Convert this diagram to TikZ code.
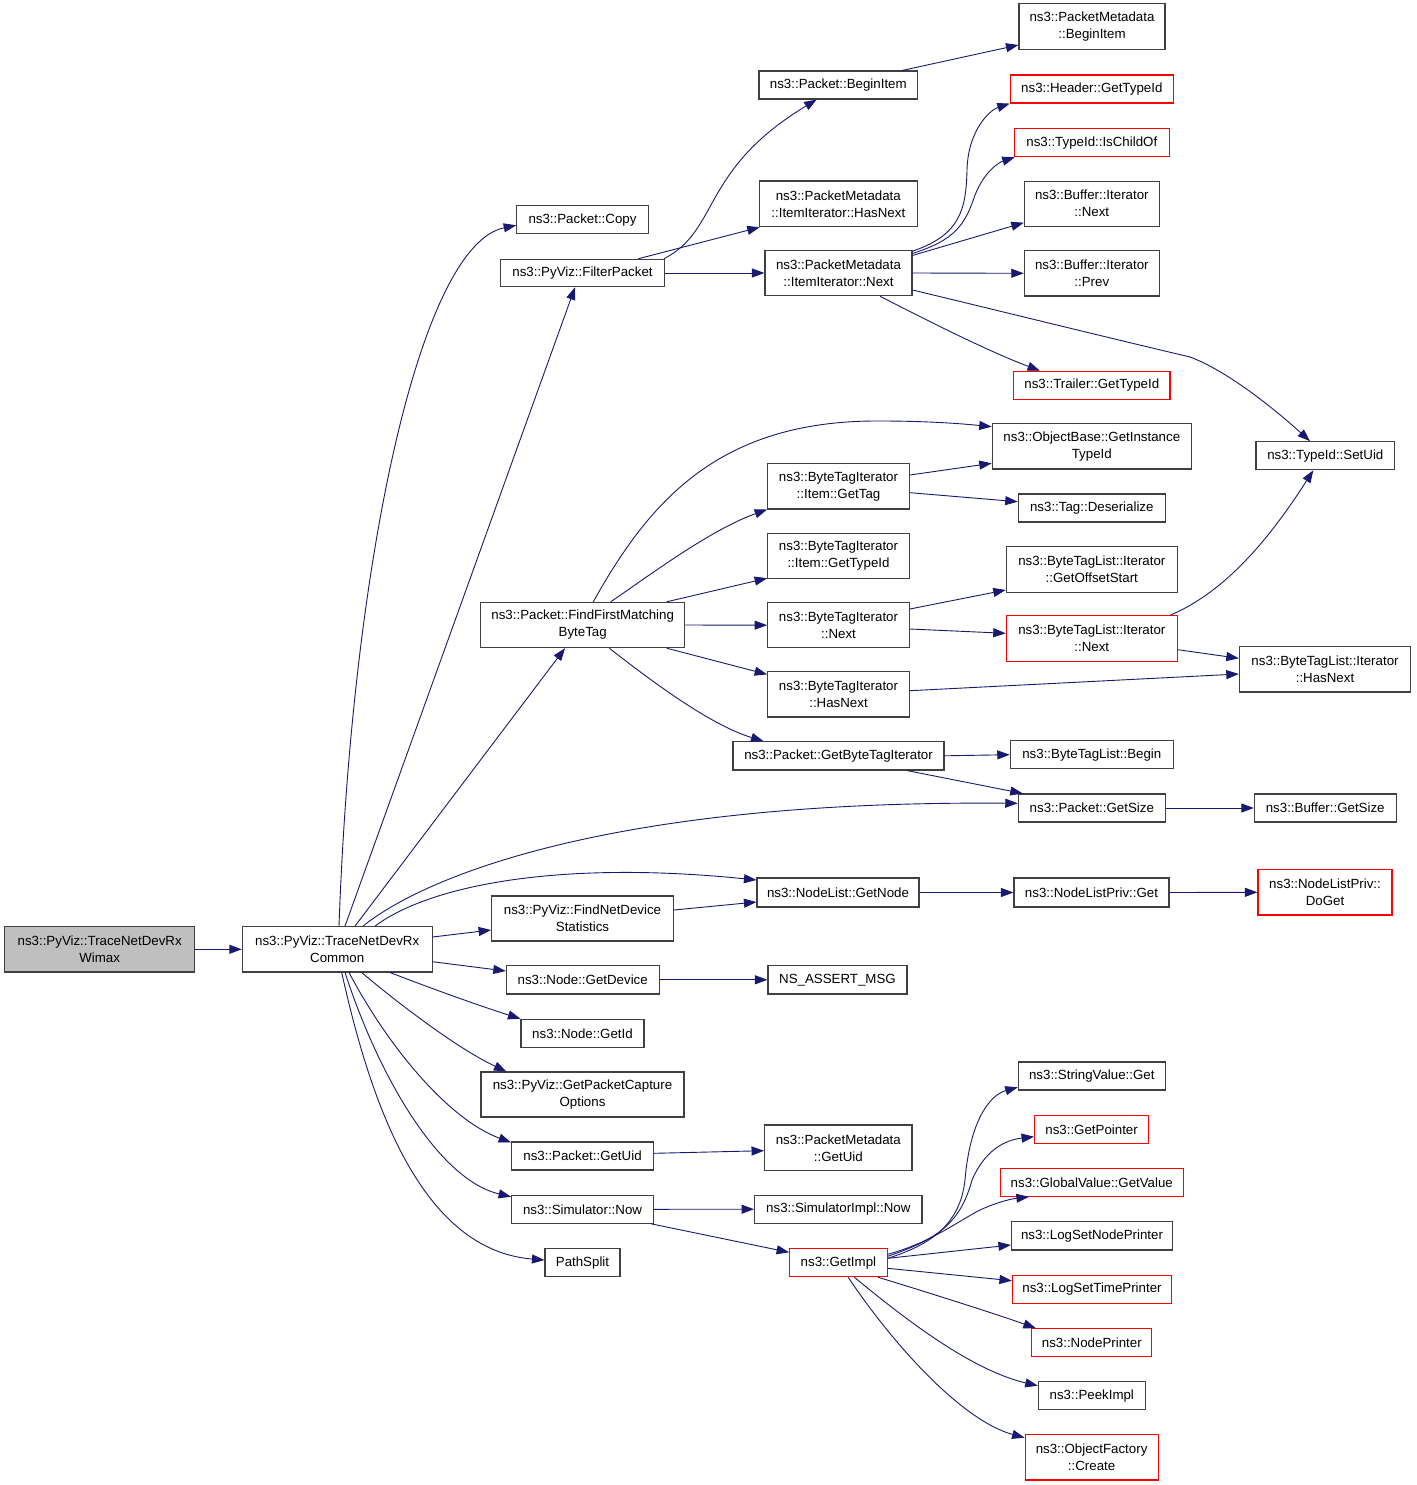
\documentclass[tikz,border=0pt]{standalone}
\usepackage{fontspec}
\setmainfont{Liberation Sans}
\usetikzlibrary{arrows.meta,calc}
\definecolor{edgeblue}{RGB}{25,25,112}
\definecolor{grey25}{RGB}{64,64,64}
\definecolor{grey75}{RGB}{191,191,191}
\begin{document}
\begin{tikzpicture}[x=1pt,y=-1pt,
  box/.style={draw=grey25, line width=1.1pt, fill=white, inner sep=0pt, align=center,
    font=\fontsize{13.3}{17}\selectfont},
  rbox/.style={box, draw=red},
  rootbox/.style={box, fill=grey75},
  edge/.style={draw=edgeblue, line width=0.9pt, -{Triangle[length=12.5pt,width=9pt]}}]
\useasboundingbox (0,0) rectangle (1416,1485);
\fill[white] (0,0) rectangle (1416,1485);
% nodes
\newcommand{\bx}[7]{\node[#1, minimum width=#5pt, minimum height=#6pt] (#2) at (#3,#4) {#7};}
\bx{rootbox}{wimax}{99.7}{949.3}{189.7}{45.3}{ns3::PyViz::TraceNetDevRx\\Wimax}
\bx{box}{common}{337.2}{949.3}{189.7}{45.3}{ns3::PyViz::TraceNetDevRx\\Common}
\bx{box}{copy}{582.5}{219.8}{131.5}{28}{ns3::Packet::Copy}
\bx{box}{filter}{582.5}{273}{163.7}{27.4}{ns3::PyViz::FilterPacket}
\bx{box}{beginitem}{838.3}{85}{158.7}{28}{ns3::Packet::BeginItem}
\bx{box}{pmbeginitem}{1092}{26.5}{146}{45.3}{ns3::PacketMetadata\\::BeginItem}
\bx{box}{hasnext}{838.3}{203.8}{158}{45.7}{ns3::PacketMetadata\\::ItemIterator::HasNext}
\bx{box}{itnext}{838.5}{273}{147}{45.4}{ns3::PacketMetadata\\::ItemIterator::Next}
\bx{rbox}{header}{1091.8}{89}{163}{28}{ns3::Header::GetTypeId}
\bx{rbox}{ischild}{1091.8}{142.7}{155}{28}{ns3::TypeId::IsChildOf}
\bx{box}{bufnext}{1091.8}{203.7}{135}{45.3}{ns3::Buffer::Iterator\\::Next}
\bx{box}{bufprev}{1091.8}{273.3}{135}{45.3}{ns3::Buffer::Iterator\\::Prev}
\bx{rbox}{trailer}{1091.8}{385.3}{156.3}{28}{ns3::Trailer::GetTypeId}
\bx{box}{setuid}{1325.3}{455.7}{138.7}{28}{ns3::TypeId::SetUid}
\bx{box}{objbase}{1091.8}{446.3}{199}{45.3}{ns3::ObjectBase::GetInstance\\TypeId}
\bx{box}{gettag}{838.5}{486.3}{141.7}{45.3}{ns3::ByteTagIterator\\::Item::GetTag}
\bx{box}{deserialize}{1091.8}{508}{147}{28}{ns3::Tag::Deserialize}
\bx{box}{gettypeid}{838.5}{556}{141.7}{45.3}{ns3::ByteTagIterator\\::Item::GetTypeId}
\bx{box}{offsetstart}{1091.8}{569.2}{171}{45.7}{ns3::ByteTagList::Iterator\\::GetOffsetStart}
\bx{box}{findfirst}{582.7}{625}{204}{45.3}{ns3::Packet::FindFirstMatching\\ByteTag}
\bx{box}{btinext}{838.5}{625.2}{141.7}{45.3}{ns3::ByteTagIterator\\::Next}
\bx{rbox}{btlnext}{1091.8}{638.5}{171}{45.3}{ns3::ByteTagList::Iterator\\::Next}
\bx{box}{btlhasnext}{1325}{669.3}{171.3}{45.3}{ns3::ByteTagList::Iterator\\::HasNext}
\bx{box}{btihasnext}{838.5}{694.3}{141.7}{45.3}{ns3::ByteTagIterator\\::HasNext}
\bx{box}{getbti}{838.5}{755.8}{211}{28.3}{ns3::Packet::GetByteTagIterator}
\bx{box}{btlbegin}{1091.8}{754.7}{163}{28}{ns3::ByteTagList::Begin}
\bx{box}{pgetsize}{1091.8}{808}{147}{28}{ns3::Packet::GetSize}
\bx{box}{bgetsize}{1325.2}{808}{141.7}{28}{ns3::Buffer::GetSize}
\bx{box}{getnode}{838}{892.5}{162}{29}{ns3::NodeList::GetNode}
\bx{box}{nlpget}{1091.5}{892.5}{155}{29}{ns3::NodeListPriv::Get}
\bx{rbox}{doget}{1325}{892.3}{134}{45.3}{ns3::NodeListPriv::\\DoGet}
\bx{box}{findnetdev}{582.5}{918.5}{181.7}{45}{ns3::PyViz::FindNetDevice\\Statistics}
\bx{box}{getdevice}{582.7}{979.8}{152.7}{28.3}{ns3::Node::GetDevice}
\bx{box}{nsassert}{837.5}{979.8}{139}{28.3}{NS\_ASSERT\_MSG}
\bx{box}{getid}{582.5}{1033.3}{123}{28}{ns3::Node::GetId}
\bx{box}{getpcopt}{582.5}{1094.5}{203}{45}{ns3::PyViz::GetPacketCapture\\Options}
\bx{box}{getuid}{582.5}{1156}{141.7}{28}{ns3::Packet::GetUid}
\bx{box}{pmgetuid}{838.3}{1147.8}{147.4}{45.7}{ns3::PacketMetadata\\::GetUid}
\bx{box}{simnow}{582.5}{1209.3}{141.7}{28}{ns3::Simulator::Now}
\bx{box}{simimplnow}{838.3}{1209.2}{167.4}{28.3}{ns3::SimulatorImpl::Now}
\bx{box}{pathsplit}{582.5}{1262.7}{75}{28}{PathSplit}
\bx{rbox}{getimpl}{838.4}{1262.7}{97.5}{28}{ns3::GetImpl}
\bx{box}{stringvalue}{1091.8}{1076}{147}{28}{ns3::StringValue::Get}
\bx{rbox}{getpointer}{1091.6}{1129.3}{114}{28}{ns3::GetPointer}
\bx{rbox}{globalvalue}{1091.8}{1182.3}{182.8}{28}{ns3::GlobalValue::GetValue}
\bx{box}{logsetnode}{1092}{1235.8}{161}{28.3}{ns3::LogSetNodePrinter}
\bx{rbox}{logsettime}{1092}{1289.3}{159}{28}{ns3::LogSetTimePrinter}
\bx{rbox}{nodeprinter}{1091.8}{1342.5}{120}{27.6}{ns3::NodePrinter}
\bx{box}{peekimpl}{1091.8}{1395.7}{107}{28}{ns3::PeekImpl}
\bx{rbox}{objfactory}{1091.6}{1457.3}{133}{45.3}{ns3::ObjectFactory\\::Create}
% edges
\draw[edge] (wimax.east) -- (common.west);
\draw[edge] ($(common.north)+(1.8,0)$) .. controls (352,560) and (420,245) .. ($(copy.west)+(0,5.5)$);
\draw[edge] ($(common.north)+(7.8,0)$) -- ($(filter.south)+(-7.5,0)$);
\draw[edge] ($(common.north)+(17.8,0)$) -- ($(findfirst.south)+(-17.7,0)$);
\draw[edge] ($(common.north)+(25.8,0)$) .. controls (420,880) and (600,800) .. ($(pgetsize.west)+(0,-4.7)$);
\draw[edge] ($(common.north)+(37.8,0)$) .. controls (430,885) and (560,860) .. ($(getnode.west)+(0,-12.5)$);
\draw[edge] ($(common.east)+(0,-12.3)$) -- ($(findnetdev.west)+(0,11.5)$);
\draw[edge] ($(common.east)+(0,12.4)$) -- ($(getdevice.west)+(0,-8.8)$);
\draw[edge] ($(common.south)+(52.8,0)$) .. controls (430,988) and (480,1006) .. (getid.north west);
\draw[edge] ($(common.south)+(24.5,0)$) .. controls (400,1005) and (460,1050) .. ($(getpcopt.north west)+(26,0)$);
\draw[edge] ($(common.south)+(11.8,0)$) .. controls (390,1050) and (450,1120) .. ($(getuid.north west)+(0,1)$);
\draw[edge] ($(common.south)+(7.8,0)$) .. controls (380,1080) and (440,1180) .. ($(simnow.north west)+(0,2)$);
\draw[edge] ($(common.south)+(4.5,0)$) .. controls (370,1100) and (420,1250) .. ($(pathsplit.west)+(0,-2.7)$);
\draw[edge] ($(filter.north east)+(-1,0)$) .. controls (720,230) and (700,170) .. ($(beginitem.south)+(-21.6,0)$);
\draw[edge] ($(filter.north)+(55.8,0)$) -- ($(hasnext.south west)+(1,0)$);
\draw[edge] (filter.east) -- (itnext.west);
\draw[edge] ($(beginitem.north east)+(-16,0)$) -- ($(pmbeginitem.west)+(0,18.5)$);
\draw[edge] ($(itnext.north east)+(0,1.4)$) .. controls (960,235) and (966,210) .. (967,170) .. controls (968,130) and (990,110) .. (header.south west);
\draw[edge] ($(itnext.north east)+(0,3.7)$) .. controls (955,240) and (965,225) .. (975,195) .. controls (985,170) and (1000,162) .. ($(ischild.south west)+(1,0)$);
\draw[edge] ($(itnext.north east)+(0,5.7)$) -- ($(bufnext.west)+(0,19)$);
\draw[edge] (itnext.east) -- (bufprev.west);
\draw[edge] ($(itnext.south)+(41.5,0)$) .. controls (930,322) and (990,352) .. ($(trailer.north)+(-51.8,0)$);
\draw[edge] ($(itnext.east)+(0,17)$) .. controls (1004,312) and (1097,335) .. (1190,357) .. controls (1225,370) and (1270,405) .. ($(setuid.north)+(-15.3,0)$);
\draw[edge] ($(findfirst.north)+(10.6,0)$) .. controls (650,500) and (720,420) .. (880,421) .. controls (930,421) and (965,424) .. ($(objbase.west)+(0,-19.6)$);
\draw[edge] ($(findfirst.north)+(28,0)$) .. controls (650,575) and (710,530) .. (gettag.south west);
\draw[edge] ($(findfirst.north)+(84,0)$) -- ($(gettypeid.south west)+(0,-1)$);
\draw[edge] (findfirst.east) -- (btinext.west);
\draw[edge] ($(findfirst.south)+(84,0)$) -- ($(btihasnext.north west)+(0,3.3)$);
\draw[edge] ($(findfirst.south)+(26.6,0)$) .. controls (650,680) and (710,725) .. ($(getbti.north)+(-75,0)$);
\draw[edge] ($(gettag.east)+(0,-11.3)$) -- ($(objbase.west)+(0,17)$);
\draw[edge] ($(gettag.east)+(0,6.4)$) -- ($(deserialize.west)+(0,-6.3)$);
\draw[edge] ($(btinext.east)+(0,-16.2)$) -- ($(offsetstart.west)+(0,20.8)$);
\draw[edge] ($(btinext.east)+(0,3.8)$) -- ($(btlnext.west)+(0,-5.2)$);
\draw[edge] ($(btlnext.north)+(78.2,0)$) .. controls (1230,590) and (1275,530) .. ($(setuid.south)+(-12,0)$);
\draw[edge] ($(btlnext.east)+(0,11.2)$) -- ($(btlhasnext.west)+(0,-11)$);
\draw[edge] ($(btihasnext.east)+(0,-3.6)$) -- ($(btlhasnext.west)+(0,4.7)$);
\draw[edge] (getbti.east) -- (btlbegin.west);
\draw[edge] ($(getbti.south)+(68.2,0)$) -- ($(pgetsize.north west)+(5,0)$);
\draw[edge] (pgetsize.east) -- (bgetsize.west);
\draw[edge] (getnode.east) -- (nlpget.west);
\draw[edge] (nlpget.east) -- (doget.west);
\draw[edge] ($(findnetdev.east)+(0,-8.5)$) -- ($(getnode.west)+(0,9.5)$);
\draw[edge] (getdevice.east) -- (nsassert.west);
\draw[edge] ($(getuid.east)+(0,-2.7)$) -- ($(pmgetuid.west)+(0,2.9)$);
\draw[edge] (simnow.east) -- (simimplnow.west);
\draw[edge] ($(simnow.south east)+(-2.6,0)$) -- ($(getimpl.west)+(0,-10.4)$);
\draw[edge] ($(getimpl.east)+(0,-4.4)$) .. controls (930,1245) and (960,1225) .. (965,1180) .. controls (970,1120) and (990,1095) .. ($(stringvalue.south west)+(0,-3.3)$);
\draw[edge] ($(getimpl.east)+(0,-6.4)$) .. controls (935,1240) and (960,1225) .. (972,1180) .. controls (985,1150) and (1005,1140) .. ($(getpointer.west)+(0,7.4)$);
\draw[edge] ($(getimpl.east)+(0,-8.4)$) .. controls (930,1243) and (960,1220) .. (980,1210) .. controls (995,1203) and (1010,1199) .. ($(globalvalue.south west)+(29,0)$);
\draw[edge] ($(getimpl.east)+(0,-4.4)$) -- ($(logsetnode.west)+(0,9.2)$);
\draw[edge] ($(getimpl.east)+(0,5.6)$) -- ($(logsettime.west)+(0,-8.6)$);
\draw[edge] ($(getimpl.south east)+(-9.6,0)$) .. controls (920,1290) and (990,1312) .. ($(nodeprinter.north west)+(4.6,0)$);
\draw[edge] ($(getimpl.south)+(16,0)$) .. controls (900,1315) and (970,1370) .. ($(peekimpl.west)+(0,-10)$);
\draw[edge] ($(getimpl.south)+(9.8,0)$) .. controls (890,1340) and (960,1420) .. ($(objfactory.north west)+(0,3.6)$);
\end{tikzpicture}
\end{document}
